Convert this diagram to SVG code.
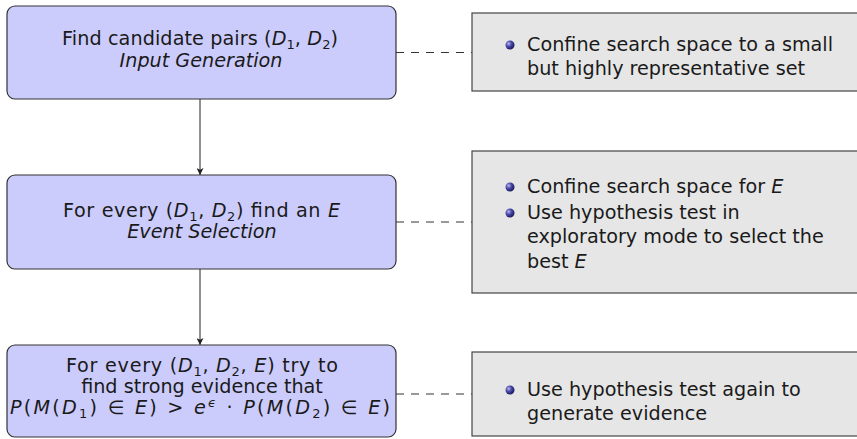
<svg xmlns="http://www.w3.org/2000/svg" width="857" height="439" viewBox="0 0 857 439">
<style>
.node{fill:#ccccfc;stroke:#333;stroke-width:1.2}
.note{fill:#e6e6e6;stroke:#444;stroke-width:1.2}
text{font-family:"DejaVu Sans","Liberation Sans",sans-serif;font-size:19.2px;fill:#1a1a1a}
.c{text-anchor:middle}
.i{font-style:italic}
.s{font-size:13px}
.dash{stroke:#333;stroke-width:1;stroke-dasharray:8 7;fill:none}
.arr{stroke:#222;stroke-width:1;fill:none;marker-end:url(#ah)}
</style>
<defs>
<marker id="ah" viewBox="0 0 10 10" refX="10" refY="5" markerWidth="7" markerHeight="7" markerUnits="userSpaceOnUse" orient="auto">
<path d="M0,0 L10,5 L0,10 L2.5,5 z" fill="#222"/>
</marker>
<radialGradient id="ball" cx="0.35" cy="0.35" r="0.7">
<stop offset="0" stop-color="#b8b8f0"/>
<stop offset="0.45" stop-color="#4a4aa8"/>
<stop offset="1" stop-color="#15155a"/>
</radialGradient>
</defs>
<g id="connectors">
<line class="arr" x1="200" y1="99" x2="200" y2="175"/>
<line class="arr" x1="200" y1="269" x2="200" y2="345"/>
<line class="dash" x1="396" y1="52.5" x2="472" y2="52.5"/>
<line class="dash" x1="396" y1="222" x2="472" y2="222"/>
<line class="dash" x1="396" y1="394" x2="472" y2="394"/>
</g>
<g id="node1">
<rect class="node" x="7" y="6" width="389" height="93" rx="8"/>
<text class="c" x="200" y="45" textLength="276">Find candidate pairs (<tspan class="i">D</tspan><tspan class="s" dy="4">1</tspan><tspan dy="-4">, </tspan><tspan class="i">D</tspan><tspan class="s" dy="4">2</tspan><tspan dy="-4">)</tspan></text>
<text class="c i" x="201" y="67">Input Generation</text>
</g>
<g id="node2">
<rect class="node" x="7" y="175" width="389" height="94" rx="8"/>
<text class="c" x="201.5" y="217" textLength="277">For every (<tspan class="i">D</tspan><tspan class="s" dy="4">1</tspan><tspan dy="-4">, </tspan><tspan class="i">D</tspan><tspan class="s" dy="4">2</tspan><tspan dy="-4">) find an </tspan><tspan class="i">E</tspan></text>
<text class="c i" x="202" y="238">Event Selection</text>
</g>
<g id="node3">
<rect class="node" x="7" y="345" width="389" height="92" rx="8"/>
<text class="c" x="202" y="372" textLength="272">For every (<tspan class="i">D</tspan><tspan class="s" dy="4">1</tspan><tspan dy="-4">, </tspan><tspan class="i">D</tspan><tspan class="s" dy="4">2</tspan><tspan dy="-4">, </tspan><tspan class="i">E</tspan>) try to</text>
<text class="c" x="202" y="393">find strong evidence that</text>
<text class="c" x="200" y="414" textLength="380"><tspan class="i">P</tspan>(<tspan class="i">M</tspan>(<tspan class="i">D</tspan><tspan class="s" dy="4">1</tspan><tspan dy="-4">) ∈ </tspan><tspan class="i">E</tspan>) &gt; <tspan class="i">e</tspan><tspan class="s i" dy="-7">ϵ</tspan><tspan dy="7"> · </tspan><tspan class="i">P</tspan>(<tspan class="i">M</tspan>(<tspan class="i">D</tspan><tspan class="s" dy="4">2</tspan><tspan dy="-4">) ∈ </tspan><tspan class="i">E</tspan>)</text>
</g>
<g id="note1">
<rect class="note" x="472" y="13" width="400" height="78"/>
<circle cx="510" cy="45" r="4.5" fill="url(#ball)"/>
<text x="527" y="51">Confine search space to a small</text>
<text x="527" y="75">but highly representative set</text>
</g>
<g id="note2">
<rect class="note" x="472" y="151" width="400" height="142"/>
<circle cx="510" cy="187" r="4.5" fill="url(#ball)"/>
<text x="527" y="193">Confine search space for <tspan class="i">E</tspan></text>
<circle cx="510" cy="213" r="4.5" fill="url(#ball)"/>
<text x="527" y="219">Use hypothesis test in</text>
<text x="527" y="243">exploratory mode to select the</text>
<text x="527" y="268">best <tspan class="i">E</tspan></text>
</g>
<g id="note3">
<rect class="note" x="472" y="352" width="400" height="84"/>
<circle cx="510" cy="390" r="4.5" fill="url(#ball)"/>
<text x="527" y="396">Use hypothesis test again to</text>
<text x="527" y="420">generate evidence</text>
</g>
</svg>
